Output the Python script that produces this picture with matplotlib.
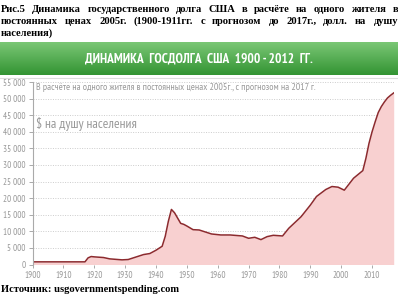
import numpy as np
import matplotlib.pyplot as plt
import matplotlib.font_manager as fm
from matplotlib.ticker import FuncFormatter

# годы и долг на душу населения (долл., цены 2005 г.)
years = [1900, 1917, 1918, 1919, 1920, 1923, 1925, 1929, 1931, 1933, 1936, 1938,
         1940, 1942, 1943, 1944, 1945, 1946, 1948, 1949, 1950, 1952, 1954, 1958,
         1961, 1964, 1968, 1970, 1972, 1974, 1976, 1978, 1981, 1983, 1987, 1990,
         1992, 1995, 1997, 1999, 2001, 2004, 2007, 2008, 2009, 2010, 2011, 2012,
         2013, 2014, 2015, 2016, 2017]
debt = [800, 800, 2000, 2400, 2300, 2100, 1700, 1400, 1500, 2100, 3000, 3300,
        4300, 5500, 8500, 13000, 16600, 15600, 12400, 12100, 11600, 10500, 10400, 9200,
        8900, 8900, 8600, 7900, 8200, 7500, 8400, 8800, 8600, 10900, 14400, 17900,
        20500, 22600, 23500, 23300, 22400, 26000, 28300, 32000, 36500, 40000, 43000, 45800,
        47600, 49000, 50200, 51000, 51700]

xticks = list(range(1900, 2011, 10))
yticks = list(range(0, 55001, 5000))

caption = [
    "Рис.5 Динамика государственного долга США в расчёте на одного жителя в",
    "постоянных ценах 2005г. (1900-1911гг. с прогнозом до 2017г., долл. на душу",
    "населения)",
]
banner = "ДИНАМИКА  ГОСДОЛГА  США  1900 - 2012  ГГ."
note = "В расчёте на одного жителя в постоянных ценах 2005г., с прогнозом на 2017 г."
unit = "$ на душу населения"
source = "Источник: usgovernmentspending.com"

# узкий шрифт, если есть
have = {f.name for f in fm.fontManager.ttflist}
narrow = [n for n in ['PT Sans Narrow', 'Roboto Condensed', 'Fira Sans Condensed',
                      'Ubuntu Condensed', 'Open Sans Condensed', 'Archivo Narrow']
          if n in have] + ['DejaVu Sans']
serif = ['Liberation Serif', 'DejaVu Serif']

fig = plt.figure(figsize=(3.98, 3.0), dpi=100)
W, H = 398, 300

# подпись сверху, выровненная по ширине
r = fig.canvas.get_renderer()
def justify(line, y, last=False):
    words = line.split()
    objs = [fig.text(0, y, w, fontsize=7.6, fontweight='bold', family=serif,
                     va='center', ha='left') for w in words]
    widths = [o.get_window_extent(r).width for o in objs]
    if last or len(words) == 1:
        gap = 3.5
    else:
        gap = (W - 1 - sum(widths)) / (len(words) - 1)
    x = 1
    for o, w in zip(objs, widths):
        o.set_x(x / W)
        x += w + gap

justify(caption[0], 1 - 9 / H)
justify(caption[1], 1 - 21 / H)
justify(caption[2], 1 - 33 / H, last=True)

# зелёная плашка
bax = fig.add_axes([0, 1 - 75 / H, 1, 33 / H])
grad = np.linspace(0, 1, 50).reshape(-1, 1)
top = np.array([0.48, 0.78, 0.46])
bot = np.array([0.20, 0.58, 0.20])
img = top + (bot - top) * grad[:, :, None]
bax.imshow(img, aspect='auto', extent=[0, 1, 0, 1])
bax.set_axis_off()
bax.text(0.5, 0.48, banner, color='white', fontsize=9.6, fontweight='bold',
         family=narrow, ha='center', va='center', transform=bax.transAxes)

# основной график
ax = fig.add_axes([32.5 / W, (H - 264.5) / H, (394 - 32.5) / W, (264.5 - 82) / H])
ax.fill_between(years, debt, 0, color='#f8d0d0', lw=0)
ax.plot(years, debt, color='#8c2a2e', lw=1.1)
ax.set_xlim(1900, 2017.1)
ax.set_ylim(0, 55000)
ax.set_xticks(xticks)
ax.set_yticks(yticks)
ax.yaxis.set_major_formatter(FuncFormatter(lambda v, p: f"{int(v):,}".replace(",", " ")))
ax.grid(axis='y', color='#cccccc', ls=(0, (1, 1.5)), lw=0.7)
ax.set_axisbelow(True)
for s in ['top', 'right', 'bottom']:
    ax.spines[s].set_visible(False)
ax.spines['left'].set_color('#aaaaaa')
ax.spines['left'].set_linewidth(0.8)
ax.tick_params(axis='y', colors='#aaaaaa', labelcolor='#999999', length=3, width=0.7, pad=2)
ax.tick_params(axis='x', colors='#aaaaaa', labelcolor='#999999', length=2, width=0.7, pad=2.5)
for t in ax.get_xticklabels() + ax.get_yticklabels():
    t.set_family(narrow)
    t.set_fontsize(6.6)

ax.text(1901, 53300, note, color='#999999', fontsize=7.1, family=narrow, va='center')
ax.text(1901, 42200, unit, color='#999999', fontsize=9.8, family=narrow, va='center')

fig.add_artist(plt.Line2D([0, 1], [1 - 77.5 / H] * 2, color='#dddddd', lw=0.8))

fig.text(1 / W, 1 - 289 / H, source, fontsize=7.6, fontweight='bold', family=serif,
         va='center', ha='left')

fig.savefig("out.png", dpi=100)
